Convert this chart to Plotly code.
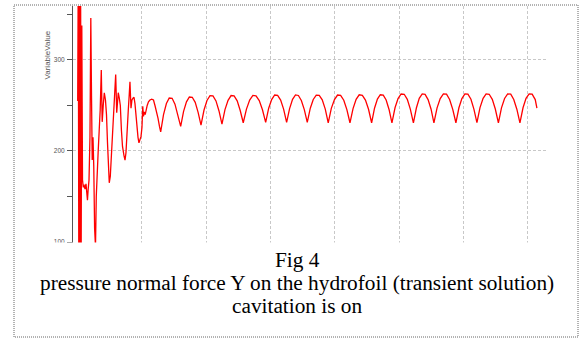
import plotly.graph_objects as go

# time (s) and pressure normal force Y (VariableValue)
time_transient = [
    0.0000, 0.0009, 0.0017, 0.0025, 0.0036, 0.0045, 0.0054, 0.0064, 0.0075, 0.0087,
    0.0098, 0.0114, 0.0129, 0.0140, 0.0152, 0.0163, 0.0176, 0.0191, 0.0204, 0.0215,
    0.0226, 0.0238, 0.0250, 0.0263, 0.0277, 0.0289, 0.0303, 0.0319, 0.0334, 0.0350,
    0.0367, 0.0381, 0.0397, 0.0414, 0.0432, 0.0448, 0.0463, 0.0479, 0.0491, 0.0507,
    0.0526, 0.0544, 0.0565, 0.0580, 0.0591, 0.0607, 0.0619, 0.0631, 0.0647, 0.0663,
    0.0681, 0.0697, 0.0720, 0.0736, 0.0751, 0.0767, 0.0787, 0.0802, 0.0813, 0.0829,
    0.0844, 0.0860, 0.0876, 0.0891, 0.0907, 0.0922, 0.0938, 0.0953, 0.0969, 0.0985,
    0.1000, 0.1012, 0.1023, 0.1036, 0.1050, 0.1062, 0.1081, 0.1101, 0.1124, 0.1151,
    0.1179, 0.1202, 0.1225, 0.1249, 0.1272,
]
value_transient = [
    255, 400, 80, 400, 80, 390, 90, 338, 168, 160,
    163, 158, 164, 155, 146, 158, 168, 215, 346, 260,
    190, 215, 183, 115, 95, 150, 181, 200, 222, 245,
    289, 232, 250, 264, 256, 240, 210, 180, 165, 172,
    195, 213, 245, 262, 284, 242, 262, 264, 258, 250,
    222, 205, 195, 190, 198, 214, 245, 262, 276, 247,
    256, 258, 259, 252, 236, 222, 215, 209, 212, 216,
    226, 249, 238, 243, 240, 246, 250, 254, 256, 257,
    256, 250, 244, 236, 227,
]

time_periodic = [
    0.1291, 0.1335, 0.1380, 0.1424, 0.1469, 0.1513, 0.1558,
    0.1602, 0.1647, 0.1692, 0.1737, 0.1782, 0.1828, 0.1873,
    0.1918, 0.1965, 0.2011, 0.2058, 0.2104, 0.2151, 0.2198,
    0.2244, 0.2291, 0.2339, 0.2386, 0.2433, 0.2481, 0.2528,
    0.2575, 0.2625, 0.2675, 0.2725, 0.2774, 0.2824, 0.2874,
    0.2924, 0.2971, 0.3017, 0.3064, 0.3110, 0.3157, 0.3203,
    0.3250, 0.3296, 0.3342, 0.3388, 0.3433, 0.3479, 0.3525,
    0.3571, 0.3618, 0.3664, 0.3711, 0.3757, 0.3804, 0.3851,
    0.3897, 0.3945, 0.3994, 0.4042, 0.4090, 0.4139, 0.4187,
    0.4235, 0.4283, 0.4331, 0.4379, 0.4428, 0.4476, 0.4524,
    0.4572, 0.4617, 0.4662, 0.4707, 0.4753, 0.4798, 0.4843,
    0.4888, 0.4936, 0.4983, 0.5031, 0.5079, 0.5127, 0.5174,
    0.5222, 0.5268, 0.5313, 0.5359, 0.5404, 0.5450, 0.5496,
    0.5541, 0.5590, 0.5639, 0.5688, 0.5737, 0.5785, 0.5834,
    0.5883, 0.5930, 0.5976, 0.6023, 0.6070, 0.6117, 0.6163,
    0.6210, 0.6258, 0.6306, 0.6353, 0.6401, 0.6449, 0.6496,
    0.6544, 0.6592, 0.6640, 0.6688, 0.6736, 0.6783, 0.6831,
    0.6879, 0.6927, 0.6974, 0.7022, 0.7069, 0.7117, 0.7143,
]
value_periodic = [
    221.0, 240.0, 252.2, 258.2, 257.9, 251.4, 238.9,
    227.0, 243.5, 254.0, 259.3, 259.0, 253.4, 242.5,
    228.5, 245.0, 255.5, 260.8, 260.5, 255.0, 244.0,
    229.5, 245.5, 255.7, 260.9, 260.5, 255.1, 244.5,
    231.0, 246.0, 256.0, 261.0, 260.6, 255.4, 245.3,
    231.5, 247.0, 256.5, 261.5, 261.0, 256.0, 246.0,
    231.5, 246.5, 256.8, 261.6, 261.0, 255.5, 245.5,
    231.5, 247.0, 256.6, 261.4, 261.2, 256.2, 246.0,
    231.0, 246.8, 256.5, 261.5, 261.2, 255.8, 245.5,
    231.0, 246.5, 256.7, 261.7, 261.1, 256.0, 245.8,
    231.0, 247.0, 257.0, 261.8, 261.4, 256.0, 245.6,
    231.0, 247.5, 257.5, 262.6, 262.3, 256.8, 246.0,
    231.0, 247.2, 257.8, 262.7, 262.2, 256.5, 246.2,
    231.0, 247.4, 257.6, 262.8, 262.4, 256.6, 245.8,
    231.0, 247.5, 257.5, 262.6, 262.4, 256.8, 246.0,
    231.2, 247.6, 257.8, 262.8, 262.3, 256.7, 246.1,
    231.0, 247.4, 257.7, 262.7, 262.4, 256.6, 245.9,
    231.0, 247.5, 257.8, 262.8, 262.4, 256.5, 247.0,
]

time_s = time_transient + time_periodic
variable_value = value_transient + value_periodic

y_major_ticks = [100, 200, 300]
y_minor_ticks = [150, 250, 350]
x_grid_ticks = [0.1, 0.2, 0.3, 0.4, 0.5, 0.6, 0.7]

y_title = "VariableValue"
caption_lines = [
    "Fig 4",
    "pressure normal force Y on the hydrofoil (transient solution)",
    "cavitation is on",
]

W, H = 581, 338
L, R, T, B = 73, 547, 6, 243  # plot area in px


def px(x):
    return (x - L) / (R - L)


def py(y):
    return (B - y) / (B - T)


fig = go.Figure()
fig.add_trace(go.Scatter(
    x=time_s, y=variable_value, mode="lines",
    line=dict(color="#ff0000", width=1.3),
    showlegend=False, hoverinfo="skip",
))

grid_col = "#c8c8c8"
fig.update_xaxes(
    range=[-0.0073, 0.7300],
    tickvals=x_grid_ticks, showticklabels=False, ticks="",
    showgrid=True, gridcolor=grid_col, gridwidth=1, griddash="3px,2px",
    showline=False, zeroline=False,
)
fig.update_yaxes(
    range=[98.9, 359.3],
    tickvals=y_major_ticks, ticktext=[str(v) for v in y_major_ticks],
    ticks="outside", ticklen=5, tickcolor="#555555", tickwidth=1,
    tickfont=dict(family="Arial, Liberation Sans, sans-serif", size=6.5, color="#555555"),
    ticklabelstandoff=1,
    minor=dict(tickvals=y_minor_ticks, ticks="outside", ticklen=5,
               tickcolor="#555555", showgrid=False),
    showgrid=True, gridcolor=grid_col, gridwidth=1, griddash="3px,2px",
    showline=True, linecolor="#555555", linewidth=1,
    zeroline=False,
)

shapes = [
    # white band hiding the lower part of the exported chart
    dict(type="rect", xref="paper", yref="paper", layer="above",
         x0=px(15), x1=px(577), y0=py(242.6), y1=py(336),
         fillcolor="white", line=dict(width=0)),
    # dotted frame
    dict(type="rect", xref="paper", yref="paper", layer="above",
         x0=px(14), x1=px(578), y0=py(5), y1=py(337),
         fillcolor="rgba(0,0,0,0)",
         line=dict(color="#666666", width=1, dash="1px,1px")),
]

annotations = [
    dict(text=y_title, textangle=-90, xref="paper", yref="paper",
         x=px(46.5), y=py(55), showarrow=False, xanchor="center", yanchor="middle",
         font=dict(family="Arial, Liberation Sans, sans-serif", size=8, color="#555555")),
]
caption_y = [260, 283, 306]
for line, yc in zip(caption_lines, caption_y):
    annotations.append(dict(
        text=line, xref="paper", yref="paper", x=px(297), y=py(yc),
        showarrow=False, xanchor="center", yanchor="middle",
        font=dict(family="Liberation Serif, Times New Roman, serif", size=21.3, color="#000000"),
    ))

fig.update_layout(
    width=W, height=H, autosize=False,
    margin=dict(l=L, r=W - R, t=T, b=H - B, pad=0),
    paper_bgcolor="white", plot_bgcolor="white",
    shapes=shapes, annotations=annotations,
)

fig.write_html("out.html")
